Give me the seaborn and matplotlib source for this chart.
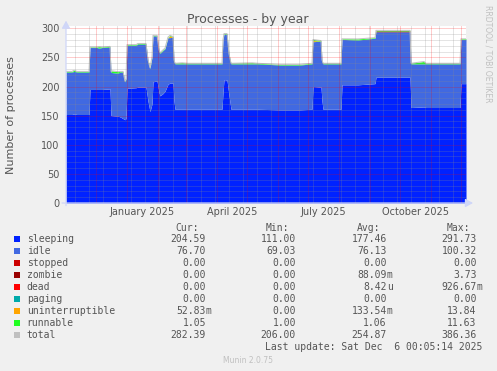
import numpy as np
import pandas as pd
import matplotlib
matplotlib.use("Agg")
import matplotlib.pyplot as plt
import seaborn as sns

# graph covers 400 days, day 0 = 2024-11-01, last sample 2025-12-06
start = pd.Timestamp("2024-11-01")

days = [0, 6, 8, 11, 23, 24, 31, 33, 36, 44, 45, 46, 52, 54, 57, 59, 60, 61, 70, 72,
        80, 82, 84, 86, 87, 91, 93, 94, 97, 99, 102, 104, 107, 108, 109, 116, 122, 156, 157, 158,
        161, 163, 165, 186, 192, 214, 234, 246, 247, 255, 256, 257, 275, 276, 292, 309, 310, 344, 345, 358,
        360, 394, 395, 400]
sleeping = [152, 152, 153, 152, 152, 195, 195, 195, 195, 196, 150, 150, 149, 148, 145, 143, 145, 197, 198, 199,
            199, 175, 157, 170, 208, 210, 190, 184, 188, 192, 204, 206, 206, 175, 161, 161, 161, 161, 190, 212,
            211, 185, 161, 161, 161, 160, 160, 161, 200, 199, 175, 161, 161, 203, 203, 205, 216, 216, 164, 165,
            164, 164, 205, 205]
idle = [73, 73, 73, 73, 73, 72, 72, 71, 72, 72, 75, 74, 74, 77, 80, 65, 68, 74, 73, 74,
        74, 70, 74, 80, 79, 77, 72, 73, 74, 73, 80, 78, 79, 70, 78, 78, 78, 78, 90, 78,
        79, 70, 78, 78, 78, 77, 77, 78, 77, 79, 70, 78, 78, 78, 77, 78, 78, 78, 75, 74,
        75, 75, 76, 76]
runnable = [1, 1, 2, 1, 1, 1, 1, 2.5, 1, 1, 1, 3, 2.5, 1, 1, 1, 1, 1, 1, 1,
            1, 1, 1, 1, 1, 1, 1, 1, 1, 1, 1, 1, 1, 1, 1, 1.8, 1, 1, 1, 1,
            1, 1, 1, 1.8, 1, 1, 1, 1, 1.8, 1, 1, 1, 1, 1, 1.8, 1, 1, 1, 1, 4,
            1, 1, 1, 1]
uninterruptible = [0] * 31 + [3] + [0] * 16 + [2] + [0] * 15
zombie = [0] * 56 + [1.5, 1.5] + [0] * 6
stopped = [0] * len(days)
dead = [0] * len(days)
paging = [0] * len(days)

month_labels = ["January 2025", "April 2025", "July 2025", "October 2025"]

names = ["sleeping", "idle", "stopped", "zombie", "dead", "paging", "uninterruptible", "runnable", "total"]
colors = ["#0022ff", "#4169e1", "#cc0000", "#990000", "#ff0000", "#00aaaa", "#ffa500", "#22ff22", "#c0c0c0"]
cur = ["204.59", "76.70", "0.00", "0.00", "0.00", "0.00", "52.83m", "1.05", "282.39"]
mins = ["111.00", "69.03", "0.00", "0.00", "0.00", "0.00", "0.00", "1.00", "206.00"]
avg = ["177.46", "76.13", "0.00", "88.09m", "8.42u", "0.00", "133.54m", "1.06", "254.87"]
maxs = ["291.73", "100.32", "0.00", "3.73", "926.67m", "0.00", "13.84", "11.63", "386.36"]

sns.set_style("white")
plt.rcParams["font.family"] = ["DejaVu Sans"]

W, H = 497, 371
fig = plt.figure(figsize=(W / 100, H / 100), dpi=100, facecolor="#f0f0f0")
ax = fig.add_axes([66 / W, 1 - 203 / H, 400 / W, 177 / H])
ax.set_facecolor("white")

ax.stackplot(days, sleeping, idle, stopped, zombie, dead, paging, uninterruptible, runnable,
             colors=colors[:8], linewidth=0, zorder=1)
total = np.sum([sleeping, idle, stopped, zombie, dead, paging, uninterruptible, runnable], axis=0)
sns.lineplot(x=days, y=total, color="#c0c0c0", linewidth=0.7, ax=ax, estimator=None, legend=False, zorder=2)

ax.set_xlim(0, 400)
ax.set_ylim(0, 304)

# grid (drawn over the areas, like rrdtool)
month_starts = [(d - start).days for d in pd.date_range("2024-12-01", "2025-12-01", freq="MS")]
minor_x = list(range(9, 400, 14))
dots = (0, (1, 1))
for v in range(10, 301, 10):
    if v % 50:
        ax.axhline(v, color="#8c8c8c", alpha=0.45, lw=0.72, ls=dots, zorder=3)
for v in minor_x:
    ax.axvline(v, color="#8c8c8c", alpha=0.45, lw=0.72, ls=dots, zorder=3)
for v in range(50, 301, 50):
    ax.axhline(v, color="#ff0000", alpha=0.4, lw=0.72, ls=dots, zorder=3)
for v in month_starts:
    ax.axvline(v, color="#ff0000", alpha=0.4, lw=0.72, ls=dots, zorder=3)

for s in ax.spines.values():
    s.set_visible(False)

ax.set_yticks(range(0, 301, 50))
ax.set_yticks(range(0, 301, 10), minor=True)
ax.set_xticks(month_starts)
ax.set_xticks(minor_x, minor=True)
ax.set_xticklabels([])
ax.tick_params(axis="both", which="major", length=1.5, width=0.7, color="#f09a9a",
               labelsize=7, labelcolor="#555555", pad=3)
ax.tick_params(axis="both", which="minor", length=1.5, width=0.7, color="#c6c6c6")
ax.set_ylabel("")

for i, lab in enumerate(month_labels):
    mid = month_starts[1 + 3 * i] + 15
    ax.annotate(lab, xy=(mid, 0), xycoords=("data", "axes fraction"), xytext=(0, -6.3),
                textcoords="offset points", ha="center", va="center", fontsize=7, color="#555555")

# axes with arrows
arrow = dict(arrowstyle="-|>,head_length=0.45,head_width=0.25", color="#cfd6f8", lw=0.9,
             shrinkA=0, shrinkB=0)
ax.annotate("", xy=(1.0175, 0), xytext=(-0.01, 0), xycoords="axes fraction",
            arrowprops=arrow, annotation_clip=False)
ax.annotate("", xy=(0, 1.03), xytext=(0, -0.015), xycoords="axes fraction",
            arrowprops=arrow, annotation_clip=False)

fig.text(248 / W, 1 - 19 / H, "Processes - by year", ha="center", va="center", fontsize=9, color="#555555")
fig.text(10.8 / W, 1 - 115.5 / H, "Number of processes", rotation=90, ha="center", va="center",
         fontsize=8, color="#555555")
fig.text(488 / W, 1 - 53.5 / H, "RRDTOOL / TOBI OETIKER", rotation=270, ha="center", va="center",
         fontsize=5.5, color="#c0c0c0")

# legend table
mono = "DejaVu Sans Mono"
col_end = [206, 296, 386.7, 476.7]
hdr_end = [199.3, 289.3, 380, 470]
for x, h in zip(hdr_end, ["Cur:", "Min:", "Avg:", "Max:"]):
    fig.text(x / W, 1 - 227.7 / H, h, ha="right", va="center", fontsize=7, family=mono, color="#555555")
for i, name in enumerate(names):
    y = 1 - (239.5 + 11.95 * i) / H
    fig.patches.append(plt.Rectangle((14 / W, y - 3 / H), 6 / W, 6 / H, transform=fig.transFigure,
                                     facecolor=colors[i], edgecolor="none"))
    fig.text(26.7 / W, y, name, ha="left", va="center", fontsize=7, family=mono, color="#555555")
    for x, col in zip(col_end, [cur, mins, avg, maxs]):
        val = col[i]
        num, suf = (val[:-1], val[-1]) if val[-1] in "mu" else (val, "")
        fig.text(x / W, y, num, ha="right", va="center", fontsize=7, family=mono, color="#555555")
        if suf:
            fig.text(x / W, y, suf, ha="left", va="center", fontsize=7, family=mono, color="#555555")

fig.text(482.7 / W, 1 - 347.3 / H, "Last update: Sat Dec  6 00:05:14 2025", ha="right", va="center",
         fontsize=7, family=mono, color="#555555")
fig.text(248 / W, 1 - 360.3 / H, "Munin 2.0.75", ha="center", va="center", fontsize=5.5, color="#c0c0c0")

fig.savefig("out.png", dpi=100, facecolor=fig.get_facecolor())
